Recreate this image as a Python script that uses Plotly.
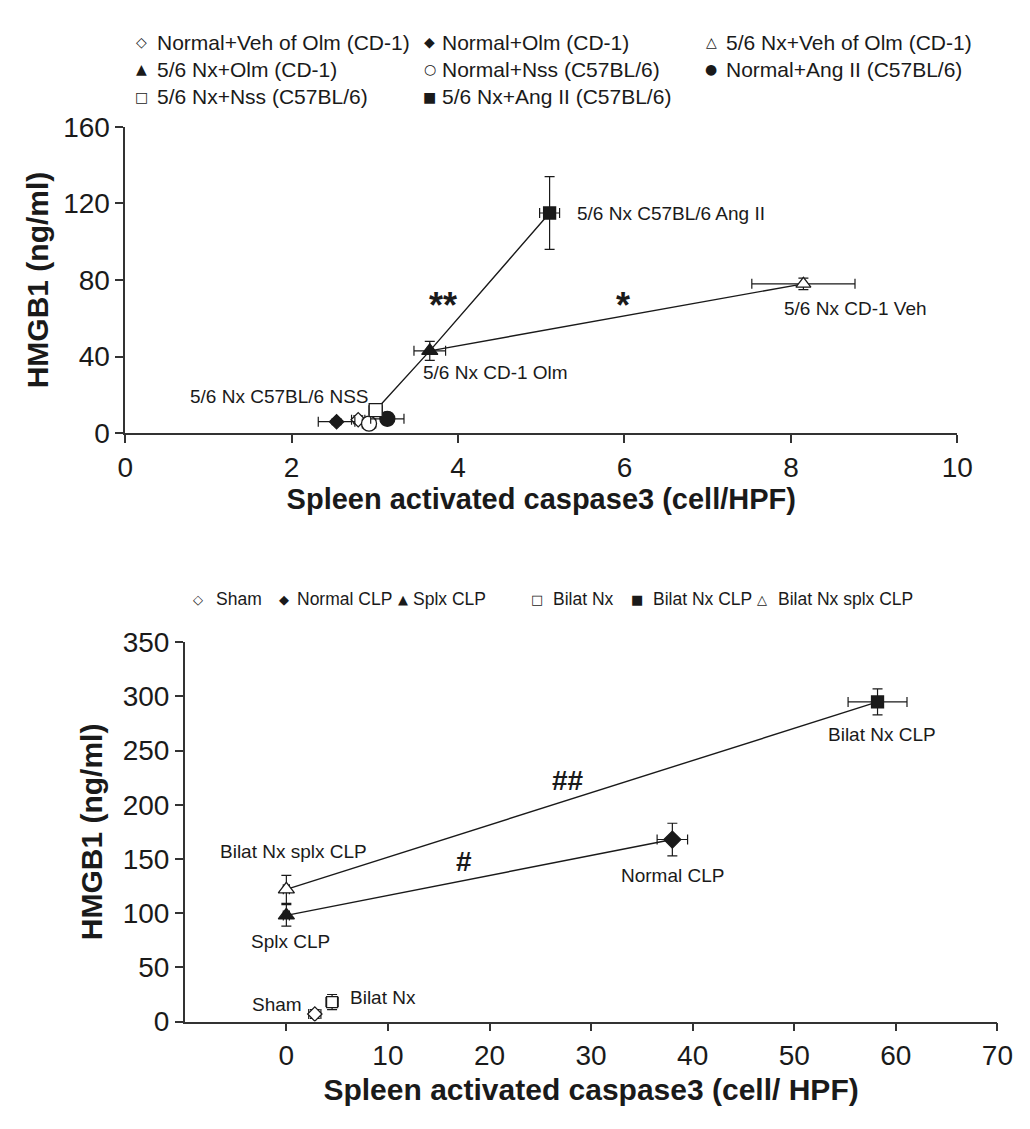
import plotly.graph_objects as go

W, H = 1030, 1129

# ---------------- data: top panel ----------------
top_groups = ["Normal+Veh of Olm (CD-1)", "Normal+Olm (CD-1)", "5/6 Nx+Veh of Olm (CD-1)",
              "5/6 Nx+Olm (CD-1)", "Normal+Nss (C57BL/6)", "Normal+Ang II (C57BL/6)",
              "5/6 Nx+Nss (C57BL/6)", "5/6 Nx+Ang II (C57BL/6)"]
top_x = [2.80, 2.54, 8.15, 3.66, 2.93, 3.15, 3.01, 5.10]
top_x_err = [0.08, 0.22, 0.62, 0.19, 0.08, 0.20, 0.08, 0.12]
top_y = [7, 6, 78, 43, 5, 7.5, 12, 115]
top_y_err = [2, 1.5, 3, 5, 2, 3, 3, 19]
top_links = [[6, 3, 7], [3, 2]]
top_x_ticks = [0, 2, 4, 6, 8, 10]
top_y_ticks = [0, 40, 80, 120, 160]
top_labels = ["5/6 Nx C57BL/6 Ang II", "5/6 Nx CD-1 Veh", "5/6 Nx CD-1 Olm", "5/6 Nx C57BL/6 NSS"]
top_label_x = [5.41, 7.89, 3.56, 0.76]
top_label_y = [115, 65, 31.5, 19.3]
top_sig = ["**", "*"]
top_sig_x = [3.82, 5.98]
top_sig_y = [66.5, 66.5]

# ---------------- data: bottom panel ----------------
bot_groups = ["Sham", "Normal CLP", "Splx CLP", "Bilat Nx", "Bilat Nx CLP", "Bilat Nx splx CLP"]
bot_x = [2.8, 38.0, 0.0, 4.5, 58.2, 0.0]
bot_x_err = [0.6, 1.5, 0.3, 0.6, 2.9, 0.3]
bot_y = [7, 168, 98, 18, 295, 122]
bot_y_err = [4, 15, 10, 7, 12, 13]
bot_links = [[2, 1], [5, 4]]
bot_x_ticks = [0, 10, 20, 30, 40, 50, 60, 70]
bot_y_ticks = [0, 50, 100, 150, 200, 250, 300, 350]
bot_labels = ["Bilat Nx CLP", "Normal CLP", "Bilat Nx splx CLP", "Splx CLP", "Sham", "Bilat Nx"]
bot_label_x = [58.65, 38.0, 0.67, 0.4, -0.9, 6.06]
bot_label_y = [264.7, 134.6, 157, 73.6, 16.2, 22.4]
bot_sig = ["##", "#"]
bot_sig_x = [27.7, 17.5]
bot_sig_y = [222.6, 148]

# ---------------- styles ----------------
INK = "#1a1a1a"
FONT = "Liberation Sans, Arial, sans-serif"
top_sym = ["diamond", "diamond", "triangle-up", "triangle-up", "circle", "circle", "square", "square"]
top_fill = ["white", INK, "white", INK, "white", INK, "white", INK]
top_size = [11, 11, 13, 14, 15, 15, 13, 12]
top_glyph = ["◇", "◆", "△", "▲", "○", "●", "□", "■"]
bot_sym = ["diamond", "diamond", "triangle-up", "square", "square", "triangle-up"]
bot_fill = ["white", INK, INK, "white", INK, "white"]
bot_size = [11, 13, 14, 11, 12, 14]
bot_glyph = ["◇", "◆", "▲", "□", "■", "△"]


def px(x):
    return x / W


def py(y):
    return 1 - y / H


fig = go.Figure()


def add_panel(xs, ys, xe, ye, links, syms, fills, sizes, names, xa, ya):
    for link in links:
        fig.add_trace(go.Scatter(x=[xs[i] for i in link], y=[ys[i] for i in link],
                                 mode="lines", line=dict(color=INK, width=1.4),
                                 xaxis=xa, yaxis=ya, showlegend=False, hoverinfo="skip"))
    for i in range(len(xs)):
        fig.add_trace(go.Scatter(
            x=[xs[i]], y=[ys[i]], mode="markers", name=names[i],
            marker=dict(symbol=syms[i], color=fills[i], size=sizes[i],
                        line=dict(color=INK, width=1.3)),
            error_x=dict(type="data", array=[xe[i]], color=INK, thickness=1.2, width=5),
            error_y=dict(type="data", array=[ye[i]], color=INK, thickness=1.2, width=5),
            xaxis=xa, yaxis=ya, showlegend=False))


add_panel(top_x, top_y, top_x_err, top_y_err, top_links, top_sym, top_fill, top_size, top_groups, "x", "y")
add_panel(bot_x, bot_y, bot_x_err, bot_y_err, bot_links, bot_sym, bot_fill, bot_size, bot_groups, "x2", "y2")

annotations = []
for t, x, y in zip(top_labels, top_label_x, top_label_y):
    annotations.append(dict(text=t, x=x, y=y, xref="x", yref="y", xanchor="left", yanchor="middle",
                            showarrow=False, font=dict(family=FONT, size=19, color=INK)))
for t, x, y in zip(top_sig, top_sig_x, top_sig_y):
    annotations.append(dict(text="<b>" + t + "</b>", x=x, y=y, xref="x", yref="y", xanchor="center",
                            yanchor="middle", showarrow=False, font=dict(family=FONT, size=36, color=INK)))
for t, x, y in zip(bot_labels, bot_label_x, bot_label_y):
    anchor = "left" if t == "Bilat Nx" else "center"
    annotations.append(dict(text=t, x=x, y=y, xref="x2", yref="y2", xanchor=anchor, yanchor="middle",
                            showarrow=False, font=dict(family=FONT, size=19, color=INK)))
for t, x, y in zip(bot_sig, bot_sig_x, bot_sig_y):
    annotations.append(dict(text="<b>" + t + "</b>", x=x, y=y, xref="x2", yref="y2", xanchor="center",
                            yanchor="middle", showarrow=False, font=dict(family=FONT, size=28, color=INK)))

# legend-like keys (text annotations)
top_leg_sym_x = [137, 432, 720]
top_leg_txt_x = [150, 442, 733]
top_leg_row_y = [28, 56, 84]
for i, name in enumerate(top_groups):
    r, c = divmod(i, 3)
    annotations.append(dict(text=top_glyph[i], x=px(top_leg_sym_x[c]), y=py(top_leg_row_y[r]),
                            xref="paper", yref="paper", xanchor="center", yanchor="middle",
                            showarrow=False, font=dict(family="DejaVu Sans", size=14, color=INK)))
    annotations.append(dict(text=name, x=px(top_leg_txt_x[c]), y=py(top_leg_row_y[r]),
                            xref="paper", yref="paper", xanchor="left", yanchor="middle",
                            showarrow=False, font=dict(family=FONT, size=21, color=INK)))

bot_leg_sym_x = [195, 283, 404, 542, 644, 772]
bot_leg_txt_x = [211, 294, 413, 556, 658, 786]
bot_leg_y = 601
for i, name in enumerate(bot_groups):
    annotations.append(dict(text=bot_glyph[i], x=px(bot_leg_sym_x[i]), y=py(bot_leg_y),
                            xref="paper", yref="paper", xanchor="center", yanchor="middle",
                            showarrow=False, font=dict(family="DejaVu Sans", size=13, color=INK)))
    annotations.append(dict(text=name, x=px(bot_leg_txt_x[i]), y=py(bot_leg_y),
                            xref="paper", yref="paper", xanchor="left", yanchor="middle",
                            showarrow=False, font=dict(family=FONT, size=17.5, color=INK)))

axis_common = dict(showline=True, linecolor="#333", linewidth=1.5, ticks="outside", ticklen=8,
                   tickwidth=1.5, tickcolor="#333", showgrid=False, zeroline=False,
                   tickfont=dict(family=FONT, size=28, color=INK))

fig.update_layout(
    width=W, height=H, margin=dict(l=0, r=0, t=0, b=0),
    paper_bgcolor="white", plot_bgcolor="white", showlegend=False,
    xaxis=dict(domain=[px(120), px(972)], range=[0, 10], tickvals=top_x_ticks, anchor="y",
               title=dict(text="<b>Spleen activated caspase3 (cell/HPF)</b>", standoff=4,
                          font=dict(family=FONT, size=29, color=INK)), **axis_common),
    yaxis=dict(domain=[py(430), py(115)], range=[0, 160], tickvals=top_y_ticks, anchor="x",
               title=dict(text="<b>HMGB1 (ng/ml)</b>", standoff=6,
                          font=dict(family=FONT, size=30, color=INK)), **axis_common),
    xaxis2=dict(domain=[px(181), px(1013)], range=[-10, 70], tickvals=bot_x_ticks, anchor="y2",
                title=dict(text="<b>Spleen activated caspase3 (cell/ HPF)</b>", standoff=9,
                           font=dict(family=FONT, size=30, color=INK)), **axis_common),
    yaxis2=dict(domain=[py(1035), py(645)], range=[0, 350], tickvals=bot_y_ticks, anchor="x2",
                title=dict(text="<b>HMGB1 (ng/ml)</b>", standoff=11,
                           font=dict(family=FONT, size=30, color=INK)), **axis_common),
    annotations=annotations,
)

fig.write_html("out.html")
